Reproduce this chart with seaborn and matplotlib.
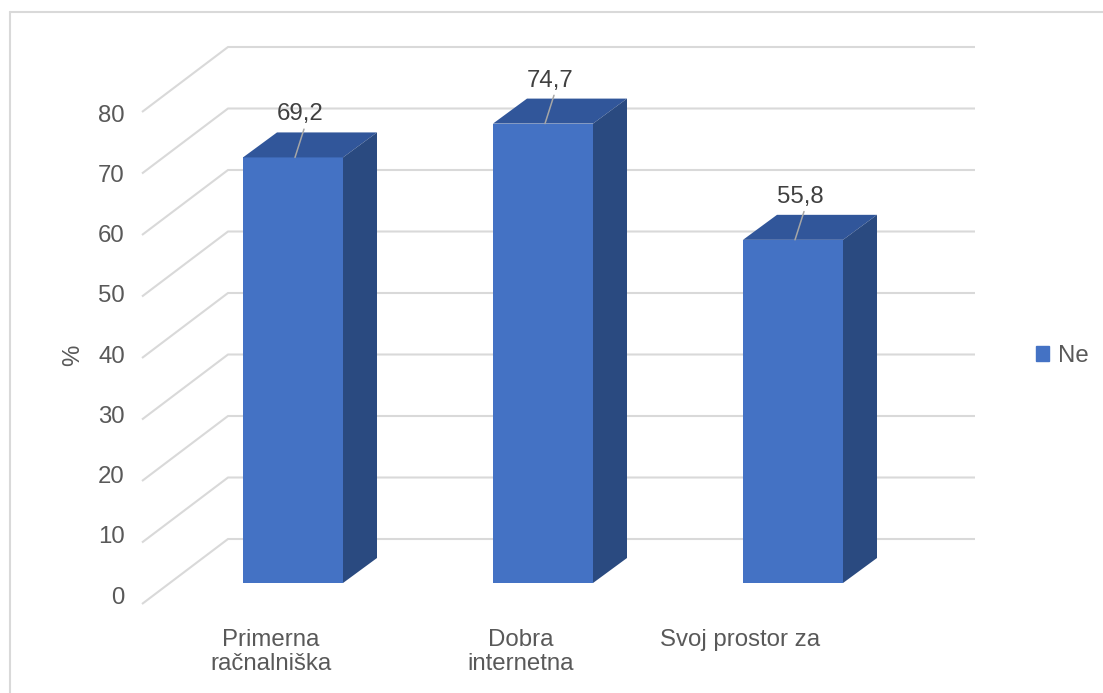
import matplotlib
matplotlib.use('Agg')
import matplotlib.pyplot as plt
import matplotlib.transforms as mtransforms
from matplotlib.patches import Polygon
from matplotlib.lines import Line2D
import seaborn as sns

# podatki
kategorije = ['Primerna\nračnalniška', 'Dobra\ninternetna', 'Svoj prostor za']
vrednosti = [69.2, 74.7, 55.8]
oznake = ['69,2', '74,7', '55,8']
y_ticki = [0, 10, 20, 30, 40, 50, 60, 70, 80]
serija = 'Ne'

sns.set_style('white')
plt.rcParams['font.family'] = ['Liberation Sans', 'DejaVu Sans']

W, H = 1103, 693
fig = plt.figure(figsize=(W / 100, H / 100), dpi=100)

# os v pikslih: x = (px-293)/250, y = (583-px)/6.15
L, R, T, B = 138, 990, 30, 615
ax = fig.add_axes([L / W, 1 - B / H, (R - L) / W, (B - T) / H])

sprednja = '#4472C4'
vrh = '#31569A'
stran = '#2A4A80'
mreza = '#D9D9D9'

sns.barplot(x=kategorije, y=vrednosti, color=sprednja, saturation=1,
            width=0.4, ax=ax, zorder=3, linewidth=0)

ax.set_xlim((L - 293) / 250, (R - 293) / 250)
ax.set_ylim((583 - B) / 6.15, (583 - T) / 6.15)

# globina stebra
ddx, ddy = 34 / 250, 25 / 6.15
# tla / stena
fx, fy = (142 - 293) / 250, -21 / 6.15
bx, by = (228 - 293) / 250, 44 / 6.15
xr = (975 - 293) / 250

for v in y_ticki:
    ax.plot([fx, bx, xr], [v + fy, v + by, v + by], color=mreza, lw=1.5,
            zorder=1, solid_capstyle='butt')

for p, lab in zip(ax.patches, oznake):
    x0, w, h = p.get_x(), p.get_width(), p.get_height()
    ax.add_patch(Polygon([(x0, h), (x0 + w, h), (x0 + w + ddx, h + ddy),
                          (x0 + ddx, h + ddy)], closed=True,
                         facecolor=vrh, edgecolor='none', zorder=3))
    ax.add_patch(Polygon([(x0 + w, 0), (x0 + w + ddx, ddy),
                          (x0 + w + ddx, h + ddy), (x0 + w, h)], closed=True,
                         facecolor=stran, edgecolor='none', zorder=3))
    xc = x0 + w / 2
    ax.plot([xc + 0.008, xc + 0.044], [h, h + 4.6], color='#A6A6A6',
            lw=1.1, zorder=4)
    ax.text(xc + 0.03, h + 7.0, lab, ha='center', va='center',
            fontsize=17.3, color='#404040', zorder=5)

# osi
for s in ax.spines.values():
    s.set_visible(False)
ax.grid(False)

ax.set_yticks([(583 - (595 - 6.025 * v)) / 6.15 for v in y_ticki])
ax.set_yticklabels([str(v) for v in y_ticki])
ax.tick_params(axis='y', length=0, pad=9.4, labelsize=17.3, labelcolor='#595959')

ax.set_xticks([i - 0.09 for i in range(len(kategorije))])
ax.set_xticklabels(kategorije, linespacing=1.1)
ax.tick_params(axis='x', length=0, pad=10, labelsize=17.3, labelcolor='#595959')
premik = mtransforms.ScaledTranslation(-0.3, 0, fig.dpi_scale_trans)
lbl = ax.get_xticklabels()[2]
lbl.set_transform(lbl.get_transform() + premik)

ax.set_ylabel('')
fig.text(73 / W, 1 - 355 / H, '%', rotation=90, ha='center', va='center',
         fontsize=17.3, color='#595959')

fig.legend(handles=[plt.Rectangle((0, 0), 1, 1, color=sprednja)], labels=[serija],
           loc='center left', bbox_to_anchor=(1036 / W, 1 - 356 / H),
           frameon=False, fontsize=17.3, labelcolor='#595959',
           handlelength=0.55, handleheight=0.55, handletextpad=0.35,
           borderpad=0, borderaxespad=0)

# obroba grafikona
fig.add_artist(Line2D([9.5 / W, 9.5 / W], [0, 1 - 11.5 / H], transform=fig.transFigure,
                      color=mreza, lw=1.5))
fig.add_artist(Line2D([9.5 / W, 1], [1 - 11.5 / H, 1 - 11.5 / H],
                      transform=fig.transFigure, color=mreza, lw=1.5))

fig.savefig('out.png', dpi=100, facecolor='white')
